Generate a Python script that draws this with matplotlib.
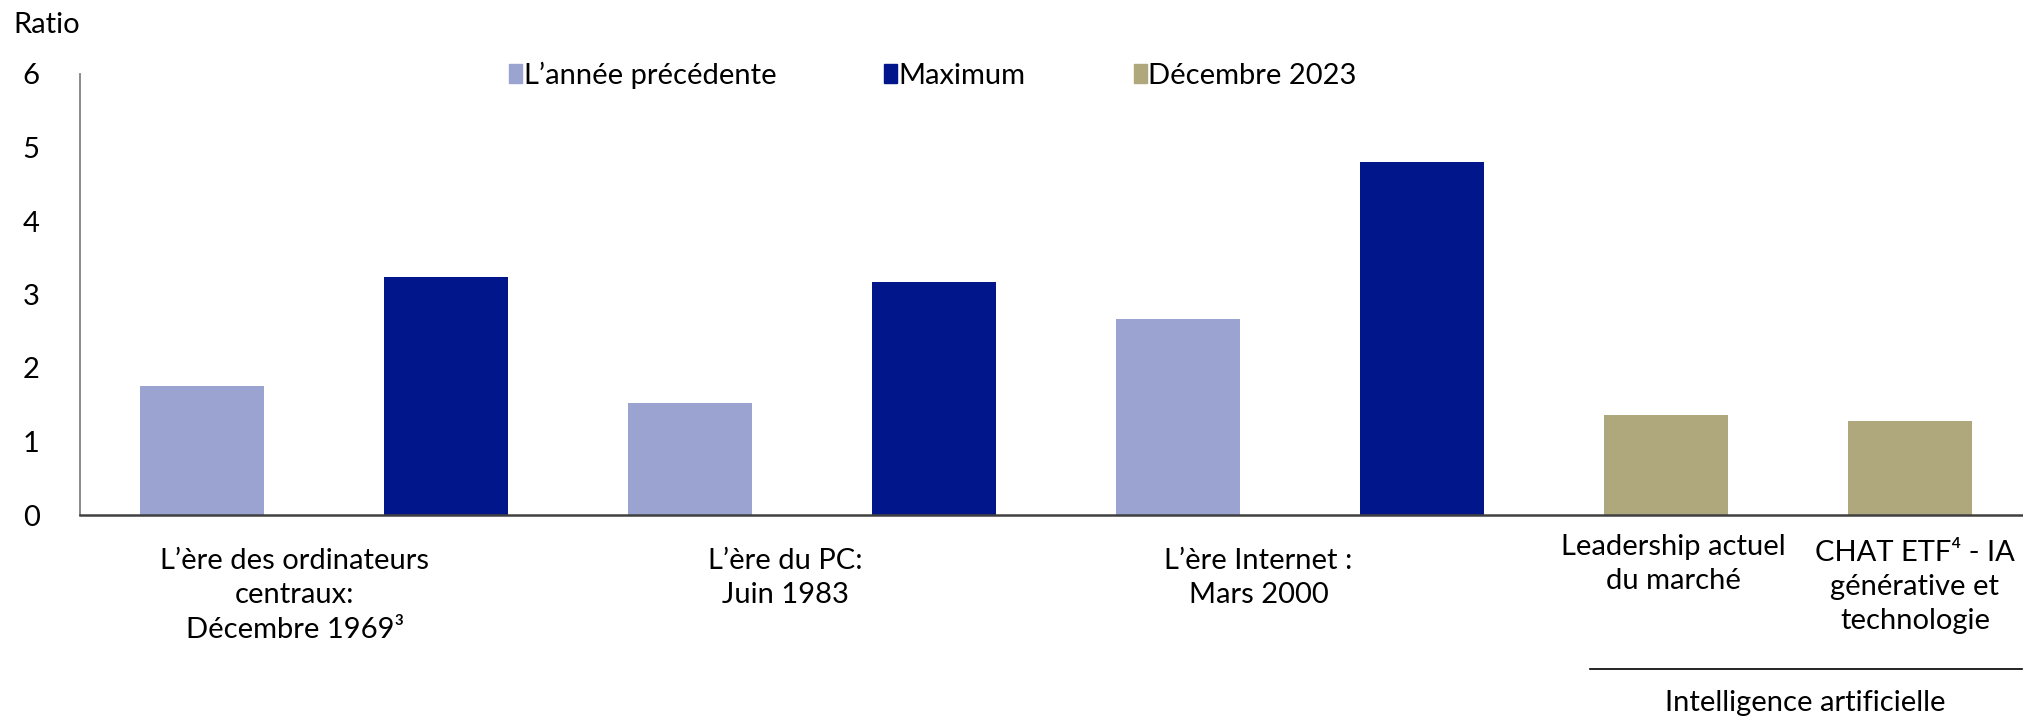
import matplotlib
matplotlib.use("Agg")
import matplotlib.pyplot as plt
from matplotlib.patches import Patch
from matplotlib.lines import Line2D
import matplotlib.transforms as mtransforms
import numpy as np

###################################################################
# DATA
era_labels = ["L’ère des ordinateurs\ncentraux:\nDécembre 1969³",
              "L’ère du PC:\nJuin 1983",
              "L’ère Internet :\nMars 2000"]
prev_year = [1.75, 1.52, 2.67]       # L'année précédente
maximum = [3.24, 3.17, 4.80]          # Maximum
ai_labels = ["Leadership actuel\ndu marché",
             "CHAT ETF⁴ - IA\ngénérative et\ntechnologie"]
dec_2023 = [1.36, 1.28]               # Décembre 2023
group_label = "Intelligence artificielle"
series_names = ["L’année précédente", "Maximum", "Décembre 2023"]
yticks = [0, 1, 2, 3, 4, 5, 6]
###################################################################

c_prev = "#9ba3d0"
c_max = "#00168a"
c_dec = "#b0a87d"

plt.rcParams['font.family'] = ['Lato', 'DejaVu Sans']
FS = 21

fig = plt.figure(figsize=(20.24, 7.17), dpi=100)
# axes extends slightly past the right edge like the cropped original
ax = fig.add_axes([80 / 2024, 1 - 515 / 717, 1952 / 2024, 441 / 717])

n_era = len(era_labels)
x_prev = np.arange(n_era) * 2
x_max = x_prev + 1
x_ai = np.arange(len(dec_2023)) + 2 * n_era

w = 0.508
ax.bar(x_prev, prev_year, width=w, color=c_prev)
ax.bar(x_max, maximum, width=w, color=c_max)
ax.bar(x_ai, dec_2023, width=w, color=c_dec)

ax.set_xlim(-0.5, 2 * n_era + len(dec_2023) - 0.5)
ax.set_ylim(0, 6)
ax.set_yticks(yticks)
ax.set_yticklabels([str(t) for t in yticks], fontsize=FS)
ax.tick_params(axis='y', length=0, pad=29)
ax.set_xticks([])

for s in ['top', 'right']:
    ax.spines[s].set_visible(False)
ax.spines['left'].set_color('#808080')
ax.spines['left'].set_linewidth(1.3)
ax.spines['bottom'].set_color('#404040')
ax.spines['bottom'].set_linewidth(1.8)

# category labels (placed like the manual text boxes of the original)
trans = mtransforms.blended_transform_factory(ax.transData, fig.transFigure)
era_x = [0.38, 2.39, 4.33]
for xx, lab in zip(era_x, era_labels):
    ax.text(xx, 1 - 548 / 717, lab, transform=trans, ha='center', va='top',
            fontsize=FS, linespacing=1.4, clip_on=False)
ai_x = [6.03, 7.02]
ai_y = [1 - 534 / 717, 1 - 540 / 717]
for xx, yy, lab in zip(ai_x, ai_y, ai_labels):
    ax.text(xx, yy, lab, transform=trans, ha='center', va='top',
            fontsize=FS, linespacing=1.38, clip_on=False)

# group line + label under AI bars
ax.add_line(Line2D([5.69, 7.46], [1 - 669 / 717] * 2, transform=trans,
                   color='black', linewidth=1.2, clip_on=False))
ax.text(6.57, 1 - 703 / 717, group_label, transform=trans, ha='center',
        va='center', fontsize=FS, clip_on=False)

fig.text(13 / 2024, 1 - 25 / 717, "Ratio", fontsize=FS, ha='left', va='center')

handles = [Patch(color=c) for c in (c_prev, c_max, c_dec)]
fig.legend(handles, series_names, loc='center left',
           bbox_to_anchor=(509 / 2024, 1 - 75 / 717), ncol=3, frameon=False,
           fontsize=FS, handlelength=0.45, handleheight=0.65, handletextpad=0.05,
           columnspacing=3.7, borderpad=0, borderaxespad=0)

fig.savefig("out.png", dpi=100)
